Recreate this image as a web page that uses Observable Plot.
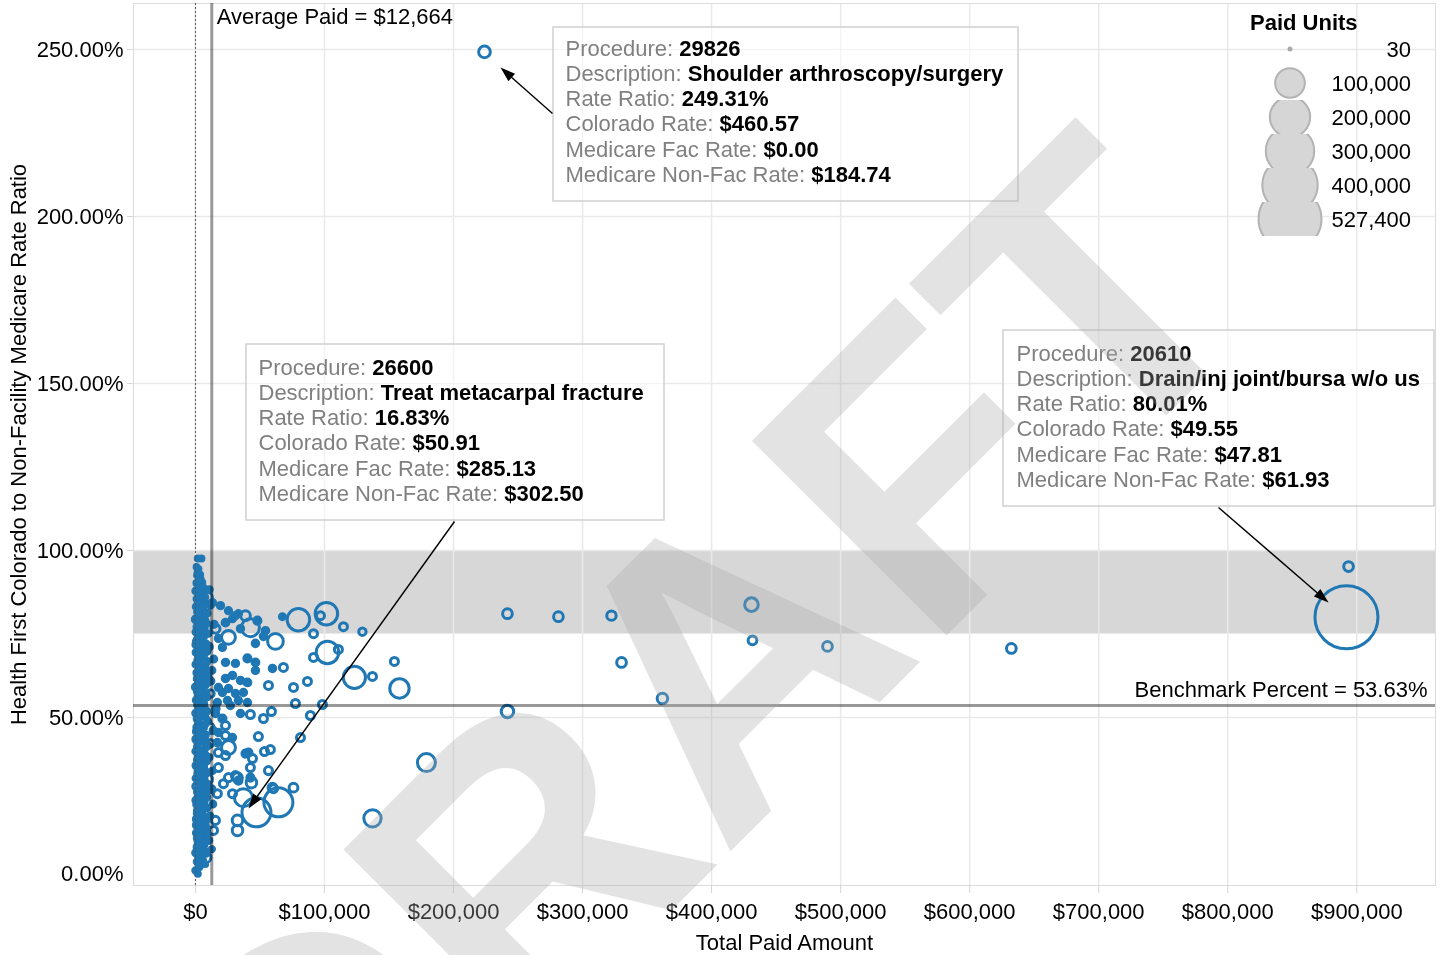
<!DOCTYPE html>
<html><head><meta charset="utf-8">
<script src="https://cdn.jsdelivr.net/npm/d3@7"></script>
<script src="https://cdn.jsdelivr.net/npm/@observablehq/plot@0.6"></script>
<style>
html,body{margin:0;padding:0;background:#fff;}
#wrap{position:relative;width:1440px;height:955px;font-family:"Liberation Sans",Arial,sans-serif;}
</style></head><body><div id="wrap"></div>
<script>
// ---------- DATA ----------
// [total paid amount ($), rate ratio (%), paid units]
const spreadPoints = [
 [224000,249.31,9000],[241800,81.1,5000],[281300,80.2,5000],[322400,80.5,4500],[430900,83.8,14000],
 [431700,73.1,3500],[330200,66.5,5000],[489800,71.3,5000],[632300,70.7,5000],[361900,55.7,6500],
 [241800,51.8,11000],[179000,36.5,30000],[137200,19.8,27000],[893600,95.2,5000],[892000,80.01,527400],
 [158100,58.7,36000],[154200,66.8,2500],[129400,75.7,1800],[123200,62.0,50000],[102300,69.5,52000],
 [101500,81.1,52000],[79800,79.3,52000],[62000,72.8,21000],[98400,53.9,2500],[77500,54.2,2500],
 [76000,59.0,2500],[86800,60.8,2500],[89100,50.6,2500],[81400,44.0,2500],[68200,65.0,2500],
 [56600,59.6,2500],[58900,51.8,2500],[52700,49.7,2500],[42600,50.9,2500],[48800,44.3,2500],
 [58100,40.4,2500],[53500,39.8,2500],[56600,34.1,2500],[42600,35.0,2500],[59700,29.0,3500],
 [76000,29.0,3500],[64300,24.6,95000],[47300,21.6,95000],[37200,26.0,30000],[32600,19.2,6500],
 [32600,16.2,6500],[43400,30.5,6500],[32600,32.0,5000],[114700,77.2,2500],[91500,75.1,2500],
 [96900,80.5,2500],[67400,80.2,600],[110800,70.4,2500],[91500,68.0,2500],[137200,62.3,2500],
 [42600,76.9,30000],[25600,74.0,15000],[38800,80.5,5000],[48000,79.0,1500],[54300,76.0,1000],
 [52700,74.3,1000],[46500,72.2,1000],[59700,64.7,1000],[25600,82.0,800],[28700,79.6,800],
 [31000,80.5,800],[33300,81.1,800],[20900,71.0,800],[17800,73.7,800],[13200,84.4,800],
 [23300,66.5,900],[31000,66.2,900],[40300,67.7,1500],[46500,66.5,1200],[23300,61.7,900],
 [28700,62.6,900],[34900,61.1,900],[40300,60.5,1200],[46500,64.1,900],[17800,59.0,900],
 [20900,57.5,900],[25600,58.7,900],[31000,57.2,900],[37200,57.5,900],[17000,54.5,900],
 [24800,55.1,900],[33300,55.1,900],[40300,54.5,900],[27100,53.6,900],[15500,51.2,900],
 [20900,49.7,1500],[23300,47.6,2500],[34900,51.2,900],[17800,45.5,900],[23300,44.6,2500],
 [28700,44.0,900],[17000,42.5,900],[25600,41.0,15000],[17800,39.5,2500],[23300,38.6,2500],
 [38800,39.2,1500],[41100,39.5,1500],[44200,37.7,2500],[17800,35.0,2500],[25600,32.0,2500],
 [31000,32.6,2500],[21700,30.2,2500],[17000,27.2,2500],[28700,27.2,2500],[33300,31.1,1500],
 [42600,32.0,1500],[60500,28.7,2500],[15500,19.2,2500],[14000,16.2,2500],[7800,8.1,7000],
 [0,4.2,300],[19400,83.5,900],[23300,78.4,1200],[34900,76.6,900],[15500,76.6,4000]
];
const clusterA = [[600,4.1,420],[1100,6.8,260],[300,9.5,900],[900,11.2,150],[1400,13.9,610],[500,15.4,330],[1000,17.8,1200],[200,19.6,90],[1300,21.3,520],[700,23.9,280],[400,25.2,760],[1200,27.7,140],[800,29.4,1800],[300,31.8,380],[1500,33.1,230],[600,35.6,950],[1000,37.3,60],[200,39.9,470],[1300,41.2,310],[700,43.5,1400],[400,45.8,180],[1100,47.1,690],[900,49.6,120],[300,51.3,840],[1400,53.7,270],[600,55.2,530],[1000,57.8,80],[200,59.1,1100],[1200,61.6,360],[800,63.4,210],[400,65.9,650],[1300,67.2,30],[700,69.5,980],[200,71.8,440],[1100,73.3,170],[500,75.6,720],[900,77.1,290],[300,79.4,1500],[1200,81.7,110],[600,83.2,560],[1000,85.5,340],[400,87.9,800],[800,90.3,190],[1500,92.6,450]];
const clusterB = [[3100,5.2,300],[2600,8.1,720],[4200,10.7,140],[3500,12.6,1100],[2800,14.8,260],[4000,16.9,580],[3300,18.4,90],[2500,20.7,870],[3900,22.5,410],[3000,24.3,230],[4400,26.8,1300],[2700,28.2,160],[3600,30.6,640],[4100,32.4,350],[2900,34.9,1000],[3400,36.2,120],[4300,38.7,490],[2600,40.5,760],[3800,42.8,200],[3200,44.1,1600],[4500,46.6,310],[2800,48.3,540],[3700,50.9,70],[3000,52.2,930],[4200,54.6,250],[2500,56.8,610],[3500,58.3,180],[4000,60.7,1200],[2900,62.1,390],[3300,64.8,110],[4400,66.3,820],[2700,68.6,270],[3800,70.4,660],[3100,72.9,150],[4100,74.2,1050],[2600,76.7,430],[3600,78.5,220],[4300,80.1,740],[3000,82.8,130],[3900,84.4,510],[2800,86.7,300],[3400,88.2,880],[4000,91.5,170]];
const clusterC = [[5600,7.3,520],[6900,11.9,240],[5200,14.2,1100],[7300,16.1,180],[6100,19.3,690],[5400,21.8,330],[7000,24.7,90],[5800,27.1,1400],[6500,29.9,270],[5100,32.8,560],[7200,34.3,130],[6000,37.9,810],[5500,40.1,400],[6800,43.3,210],[5300,45.2,1250],[7400,47.9,350],[6200,50.4,600],[5700,53.1,160],[7100,55.9,920],[5000,58.7,280],[6600,60.2,470],[5900,63.1,110],[7300,65.3,1000],[5200,67.9,320],[6400,70.9,730],[5800,73.8,190],[7000,76.2,450],[5500,79.8,1150],[6700,82.1,260],[6100,85.1,580],[5400,87.3,140]];
const clusterD = [[8200,9.8,380],[9500,15.1,150],[7800,18.9,700],[9100,22.9,260],[8500,26.1,1100],[9800,30.1,90],[7900,33.7,520],[8800,36.9,310],[9400,41.7,880],[8000,44.9,170],[9700,48.8,450],[8300,51.9,1300],[9000,56.1,230],[7700,59.8,640],[9600,62.9,120],[8600,66.8,950],[9200,69.8,340],[8100,72.1,560],[9900,75.1,200],[8400,78.1,790],[9300,81.2,280],[7600,84.2,430]];
const clusterE = [[11200,20.5,600],[12500,28.5,1500],[10800,38.1,350],[13800,46.1,900],[11600,57.2,2000],[12900,64.1,450],[10500,71.2,1200],[14500,77.9,700],[11900,83.6,300],[10300,13.2,800],[13100,34.0,250],[15800,52.6,1100],[12100,60.9,500],[10900,88.3,400],[14200,67.5,650],[11400,42.3,1800],[13500,24.1,550],[12700,10.6,300]];
const clusterF = [[1900,3.2,120],[2300,5.9,60],[1700,8.8,210],[2100,10.1,90],[1600,12.9,150],[2400,14.3,40],[1800,16.4,260],[2200,18.9,80],[1700,20.2,130],[2000,22.8,50],[2400,24.9,190],[1600,26.3,70],[2100,28.9,240],[1900,30.2,100],[2300,32.7,60],[1700,34.1,170],[2200,36.9,90],[1800,38.3,280],[2400,40.8,50],[1600,42.2,140],[2000,44.9,80],[2300,46.2,220],[1700,48.7,60],[2100,50.2,160],[1900,52.9,40],[2400,54.1,250],[1600,56.3,90],[2200,58.9,130],[1800,60.4,70],[2000,62.8,200],[2300,64.2,50],[1700,66.7,180],[2100,68.1,100],[1900,70.8,60],[2400,72.3,230],[1600,74.8,80],[2200,76.1,150],[1800,78.9,40],[2000,80.6,270],[2300,82.3,90],[1700,84.9,120],[2100,86.2,60],[1900,88.8,200],[2400,91.1,70],[1600,93.4,110]];
const clusterG = [[7600,6.1,90],[8100,9.2,200],[6900,12.3,60],[7800,15.8,150],[8400,17.4,80],[7100,20.1,240],[7900,23.3,50],[6700,25.8,170],[8300,28.4,100],[7400,31.2,60],[8000,33.0,210],[6800,35.5,90],[7700,38.6,140],[8500,41.0,50],[7200,42.4,260],[7900,44.5,70],[6600,47.0,180],[8200,49.8,90],[7500,51.5,130],[7000,54.0,60],[8400,57.3,220],[7300,59.5,80],[6900,61.8,160],[8100,64.2,50],[7600,66.0,190],[7000,68.9,100],[8300,71.5,60],[7400,74.6,230],[6800,77.0,80],[7800,79.0,140],[8200,80.9,60],[7100,83.7,200],[7700,86.0,90],[6600,88.8,120]];
const clusterTop = [[1800,97.6,150],[4600,97.6,200],[2200,94.5,300],[3700,92.8,120],[800,95.1,90],[2600,89.6,400],[5200,90.4,250]];
const clusterLarge = [[6000,13.5,6000],[9000,31.5,7000],[4500,55.5,5000],[8800,61.2,6500],[2500,72.5,7000],[7000,82.8,5500],[5500,38.5,9000],[10500,46.8,7000],[3000,22.0,5000],[9500,86.0,4500]];

const xTicks = [0,100000,200000,300000,400000,500000,600000,700000,800000,900000];
const yTicks = [0.5,1.0,1.5,2.0,2.5];
const averagePaid = 12664;
const benchmarkPct = 0.5363;
const benchmarkBand = [0.75, 1.0];
const legendValues = [30,100000,200000,300000,400000,527400];

const annotations = [
 {procedure:"29826", description:"Shoulder arthroscopy/surgery", rateRatio:"249.31%", coloradoRate:"$460.57", medicareFac:"$0.00", medicareNonFac:"$184.74"},
 {procedure:"26600", description:"Treat metacarpal fracture", rateRatio:"16.83%", coloradoRate:"$50.91", medicareFac:"$285.13", medicareNonFac:"$302.50"},
 {procedure:"20610", description:"Drain/inj joint/bursa w/o us", rateRatio:"80.01%", coloradoRate:"$49.55", medicareFac:"$47.81", medicareNonFac:"$61.93"}
];
const annLabels = ["Procedure: ","Description: ","Rate Ratio: ","Colorado Rate: ","Medicare Fac Rate: ","Medicare Non-Fac Rate: "];

// ---------- LAYOUT ----------
const FONT = '"Liberation Sans", Arial, sans-serif';
const W = 1440, H = 955, ML = 133, MR = 5, MT = 3, MB = 70;
const xDomain = [-48000, 961000];
const yDomain = [-0.003, 2.638];
const annLayout = [
 {box:[553,27,1018,201], textX:565, firstLine:48, tail:[552,113], tip:[500,67]},
 {box:[246,344,664,520], textX:258, firstLine:367, tail:[454,521], tip:[248,808]},
 {box:[1003,330,1434,506], textX:1016, firstLine:353, tail:[1218,507], tip:[1328,602]}
];
const lineGap = 25.3;
const watermark = {cx: 703, cy: 697, size: 400};
const filledBelowUnits = 1600;

const xs = Plot.scale({x:{domain:xDomain, range:[ML, W-MR]}});
const ys = Plot.scale({y:{domain:yDomain, range:[H-MB, MT]}});

const points = [...spreadPoints, ...clusterA, ...clusterB, ...clusterC, ...clusterD, ...clusterE, ...clusterF, ...clusterG, ...clusterTop, ...clusterLarge]
  .map(([amount, pct, units]) => ({amount, ratio: pct/100, units}));

const ctx = document.createElement("canvas").getContext("2d");
function textWidth(s){ ctx.font = '22px "Liberation Sans"'; return ctx.measureText(s).width; }

const annRows = [];
annotations.forEach((a,i)=>{
  const L = annLayout[i];
  const vals = [a.procedure,a.description,a.rateRatio,a.coloradoRate,a.medicareFac,a.medicareNonFac];
  annLabels.forEach((lab,j)=>{
    const py = L.firstLine + j*lineGap;
    annRows.push({x: xs.invert(L.textX), y: ys.invert(py), label: lab.trim(), vx: xs.invert(L.textX + textWidth(lab)), value: vals[j]});
  });
});
const boxes = annLayout.map(L => ({x1: xs.invert(L.box[0]), y1: ys.invert(L.box[1]), x2: xs.invert(L.box[2]), y2: ys.invert(L.box[3])}));
const arrows = annLayout.map(L => {
  const [tx,ty] = L.tail, [hx,hy] = L.tip;
  const len = Math.hypot(hx-tx, hy-ty);
  const bx = hx - (hx-tx)/len*12, by = hy - (hy-ty)/len*12;
  return {x1: xs.invert(tx), y1: ys.invert(ty), x2: xs.invert(bx), y2: ys.invert(by),
          hx: xs.invert(hx), hy: ys.invert(hy), ang: Math.atan2(hx-tx, -(hy-ty))*180/Math.PI};
});

const fmtMoney = d => "$" + d3.format(",")(d);
const fmtPct = d3.format(".2%");
const BLUE = "#1f77b4";

const plot = Plot.plot({
  width: W, height: H, marginLeft: ML, marginRight: MR, marginTop: MT, marginBottom: MB,
  style: {fontFamily: FONT, fontSize: "22px", background: "#fff", color: "#000"},
  x: {domain: xDomain},
  y: {domain: yDomain},
  r: {type: "sqrt", domain: [30, 527400], range: [2.2, 31.5]},
  marks: [
    Plot.rect([benchmarkBand], {y1: d=>d[0], y2: d=>d[1], fill: "#d7d7d7"}),
    Plot.gridX(xTicks, {stroke: "#e9e9e9", strokeOpacity: 1, strokeWidth: 1.5}),
    Plot.gridY(yTicks, {stroke: "#e9e9e9", strokeOpacity: 1, strokeWidth: 1.5}),
    Plot.frame({stroke: "#dcdcdc"}),
    Plot.axisX(xTicks, {tickFormat: fmtMoney, tickSize: 8, tickPadding: 10, stroke: "#d4d4d4", fontSize: 22, label: null}),
    Plot.axisY(yTicks, {tickFormat: fmtPct, tickSize: 6, tickPadding: 4, stroke: "#d4d4d4", fontSize: 22, label: null}),
    Plot.text([{y: 0}], {y: "y", frameAnchor: "left", dx: -10, dy: -11, textAnchor: "end", text: d => fmtPct(d.y), fontSize: 22}),
    Plot.text([{t: "Total Paid Amount"}], {text: "t", frameAnchor: "bottom", lineAnchor: "middle", textAnchor: "middle", dy: 57, fontSize: 22}),
    Plot.text([{t: "Health First Colorado to Non-Facility Medicare Rate Ratio"}], {text: "t", frameAnchor: "left", textAnchor: "middle", lineAnchor: "middle", rotate: -90, dx: -115, fontSize: 22}),
    Plot.dot(points, {x: "amount", y: "ratio", r: "units", stroke: BLUE, strokeWidth: 3,
      fill: d => d.units < filledBelowUnits ? BLUE : "none"}),
    Plot.ruleX([0], {stroke: "#555", strokeWidth: 1, strokeDasharray: "2,2"}),
    Plot.ruleX([averagePaid], {stroke: "#999", strokeWidth: 3, mixBlendMode: "multiply"}),
    Plot.ruleY([benchmarkPct], {stroke: "#999", strokeWidth: 3, mixBlendMode: "multiply"}),
    Plot.text([{x: averagePaid}], {x: "x", frameAnchor: "top", lineAnchor: "middle", dx: 5, dy: 13, textAnchor: "start", text: d => "Average Paid = " + fmtMoney(d.x), fontSize: 22}),
    Plot.text([{y: benchmarkPct}], {y: "y", frameAnchor: "right", lineAnchor: "middle", dx: -8, dy: -15, textAnchor: "end", text: d => "Benchmark Percent = " + fmtPct(d.y), fontSize: 22}),
    Plot.rect(boxes, {x1: "x1", x2: "x2", y1: "y1", y2: "y2", fill: "#fff", fillOpacity: 0.5, stroke: "#d0d0d0", strokeWidth: 1.5}),
    Plot.text(annRows, {x: "x", y: "y", text: "label", textAnchor: "start", fill: "#808080", fontSize: 22}),
    Plot.text(annRows, {x: "vx", y: "y", text: "value", textAnchor: "start", fill: "#000", fontWeight: "bold", fontSize: 22}),
    Plot.link(arrows, {x1: "x1", y1: "y1", x2: "x2", y2: "y2", stroke: "#000", strokeWidth: 1.4}),
    Plot.vector(arrows, {x: "hx", y: "hy", rotate: "ang", length: 15, anchor: "end", shape: "spike", r: 5, fill: "#000", stroke: "none"}),
    Plot.text([{x: xs.invert(watermark.cx), y: ys.invert(watermark.cy), t: "DRAFT"}], {x: "x", y: "y", text: "t", rotate: -45, fontSize: watermark.size, fontWeight: "bold", fill: "#a9a9a9", fillOpacity: 0.33})
  ]
});
const wrap = document.getElementById("wrap");
wrap.appendChild(plot);

// ---------- LEGEND ----------
const rS = plot.scale("r");
const lg = d3.select(wrap).append("svg").attr("width", W).attr("height", H)
  .style("position","absolute").style("left","0px").style("top","0px").style("font-family", FONT);
const defs = lg.append("defs");
lg.append("text").attr("x",1250).attr("y",22).attr("dy","0.35em").attr("font-weight","bold").attr("font-size",22).text("Paid Units");
legendValues.forEach((v,i)=>{
  const cy = 49 + i*34;
  const bottom = i === legendValues.length-1 ? 236 : cy+17;
  defs.append("clipPath").attr("id","lc"+i).append("rect").attr("x",1240).attr("y",cy-17).attr("width",100).attr("height",bottom-(cy-17));
  if (i === 0) {
    lg.append("circle").attr("cx",1290).attr("cy",cy).attr("r",2.5).attr("fill","#aaa");
  } else {
    lg.append("circle").attr("cx",1290).attr("cy",cy).attr("r",rS.apply(v)).attr("fill","#d6d6d6")
      .attr("stroke","#b3b3b3").attr("stroke-width",2).attr("clip-path",`url(#lc${i})`);
  }
  lg.append("text").attr("x",1411).attr("y",cy).attr("dy","0.35em").attr("text-anchor","end").attr("font-size",22).text(d3.format(",")(v));
});
</script></body></html>
